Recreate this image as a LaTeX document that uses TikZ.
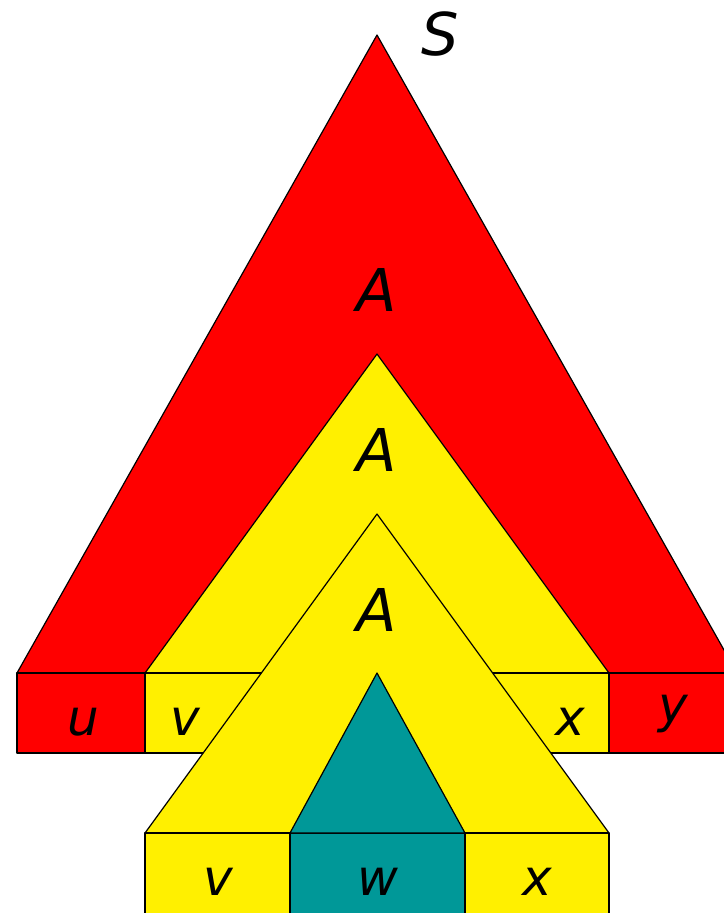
\documentclass[tikz,border=0pt]{standalone}
\usepackage{fontspec}
\setmainfont{DejaVu Sans}
\usepackage{xcolor}
\definecolor{arbreRouge}{HTML}{FF0000}
\definecolor{arbreJaune}{HTML}{FFF000}
\definecolor{arbreSarcelle}{HTML}{009898}
\usepackage{tikz}
\tikzset{
  %% ── Zones ────────────────────────────────────────────────────────────
  %% Every piece of the derivation tree is a filled polygon with the same
  %% black outline; only the fill tells which part of the word it yields.
  zone/.style        = {draw=black, line width=1.2pt, line join=round},
  zoneRouge/.style   = {zone, fill=arbreRouge},
  zoneJaune/.style   = {zone, fill=arbreJaune},
  zoneSarcelle/.style = {zone, fill=arbreSarcelle},
  %%
  %% ── Text ─────────────────────────────────────────────────────────────
  %% Symbols sit on a common baseline, so the nodes are anchored at base.
  symbole/.style     = {font=\fontsize{59}{61}\selectfont\itshape,
                        anchor=base, inner sep=0pt},
  morceau/.style     = {font=\fontsize{50}{52}\selectfont\itshape,
                        anchor=base, inner sep=0pt},
}

\begin{document}
\begin{tikzpicture}[x=1pt, y=-1pt]
\useasboundingbox (0,0) rectangle (723,913);

%% outer tree S
\draw[zoneRouge] (377,35) -- (17,673) -- (737,673) -- cycle;
\draw[zoneRouge] (17,673) rectangle (145,753);
\draw[zoneRouge] (609,673) rectangle (737,753);

%% first A
\draw[zoneJaune] (377,354) -- (145,673) -- (609,673) -- cycle;
\draw[zoneJaune] (145,673) rectangle (609,753);

%% pumped A
\draw[zoneJaune] (377,514) -- (145,833) -- (609,833) -- cycle;
\draw[zoneJaune] (145,833) rectangle (290,920);
\draw[zoneSarcelle] (290,833) rectangle (465,920);
\draw[zoneJaune] (465,833) rectangle (609,920);

%% innermost A
\draw[zoneSarcelle] (377,673) -- (290,833) -- (465,833) -- cycle;

\node[symbole] (racine) at (440,55) {S};
\node[symbole] (aHaut) at (377,311) {A};
\node[symbole] (aMilieu) at (377,471) {A};
\node[symbole] (aBas) at (377,631) {A};

\node[morceau] (motU) at (83,735) {u};
\node[morceau] (motV) at (185,735) {v};
\node[morceau] (motX) at (570,735) {x};
\node[morceau] (motY) at (673,722) {y};

\node[morceau] (basV) at (218,895) {v};
\node[morceau] (basW) at (378,895) {w};
\node[morceau] (basX) at (537,895) {x};

\end{tikzpicture}
\end{document}
